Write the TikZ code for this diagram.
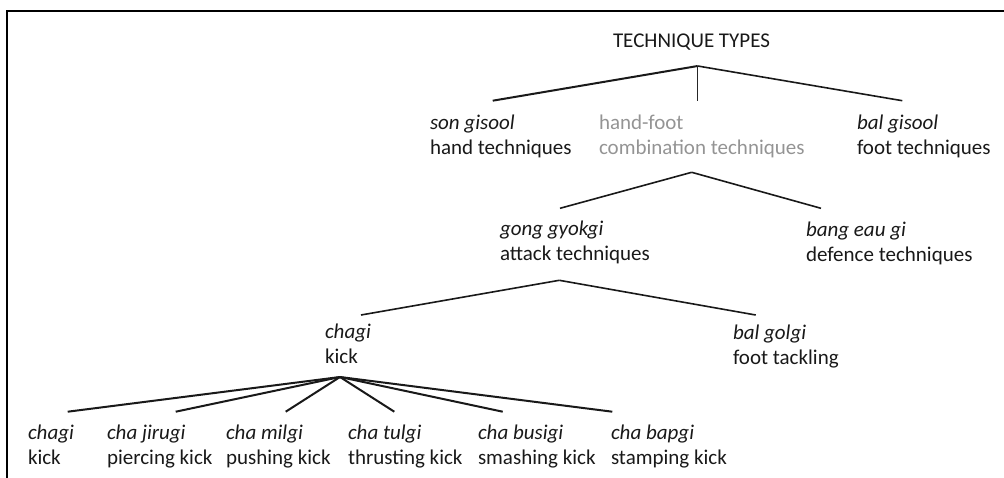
\documentclass[tikz,border=0pt]{standalone}
\usepackage{fontspec}
\setmainfont{Carlito}
\begin{document}
\begin{tikzpicture}[x=1pt,y=-1pt,
  lbl/.style={inner sep=0pt, outer sep=0pt, anchor=base west, align=left,
    font=\fontsize{21}{25}\selectfont, text=black!90},
  grey/.style={text=black!42},
  edge/.style={line width=1.6pt, black!90},
  heavyedge/.style={line width=2pt, black!90},
  thinedge/.style={line width=0.9pt, black!85},
  frame/.style={line width=2pt, black}]
\useasboundingbox (0,0) rectangle (1004,477);
% frame
\coordinate (fb) at (6.5,478);
\coordinate (fc) at (6.5,10.5);
\coordinate (fr) at (1005,10.5);
\draw[frame] (fb) -- (fc) -- (fr);

% nodes (anchor = baseline of the last line)
\node[lbl] (root) at (613,47) {TECHNIQUE TYPES};
\node[lbl] (son) at (430,154) {\textit{son gisool}\\hand techniques};
\node[lbl,grey] (hf) at (599,154) {hand-foot\\combination techniques};
\node[lbl] (bal) at (857,154) {\textit{bal gisool}\\foot techniques};
\node[lbl] (gong) at (500,260) {\textit{gong gyokgi}\\attack techniques};
\node[lbl] (bang) at (806,261) {\textit{bang eau gi}\\defence techniques};
\node[lbl] (chagi) at (325,363) {\textit{chagi}\\kick};
\node[lbl] (golgi) at (733,364) {\textit{bal golgi}\\foot tackling};
\node[lbl] (k1) at (28,464) {\textit{chagi}\\kick};
\node[lbl] (k2) at (107,464) {\textit{cha jirugi}\\piercing kick};
\node[lbl] (k3) at (226,464) {\textit{cha milgi}\\pushing kick};
\node[lbl] (k4) at (348,464) {\textit{cha tulgi}\\thrusting kick};
\node[lbl] (k5) at (478,464) {\textit{cha busigi}\\smashing kick};
\node[lbl] (k6) at (611,464) {\textit{cha bapgi}\\stamping kick};

% connector points
\coordinate (a0) at (697.7,66);
\coordinate (e0l) at (492.7,100.7);
\coordinate (e0m) at (697.7,101);
\coordinate (e0r) at (902.3,100.7);
\coordinate (a1) at (691.7,172.3);
\coordinate (e1l) at (560,208.3);
\coordinate (e1r) at (821,208.3);
\coordinate (a2) at (559.3,280.3);
\coordinate (e2l) at (361,315);
\coordinate (e2r) at (755.7,315);
\coordinate (a3) at (340,377);
\coordinate (e31) at (67.7,411.7);
\coordinate (e32) at (175.7,411.7);
\coordinate (e33) at (285.7,411.7);
\coordinate (e34) at (394.3,411.7);
\coordinate (e35) at (502.7,411.7);
\coordinate (e36) at (612.3,411.7);

% connectors
\draw[heavyedge] (a0) -- (e0l);
\draw[thinedge] (a0) -- (e0m);
\draw[edge] (a0) -- (e0r);
\draw[edge] (a1) -- (e1l);
\draw[edge] (a1) -- (e1r);
\draw[edge] (a2) -- (e2l);
\draw[edge] (a2) -- (e2r);
\foreach \i in {1,...,6} \draw[heavyedge] (a3) -- (e3\i);
\end{tikzpicture}
\end{document}
